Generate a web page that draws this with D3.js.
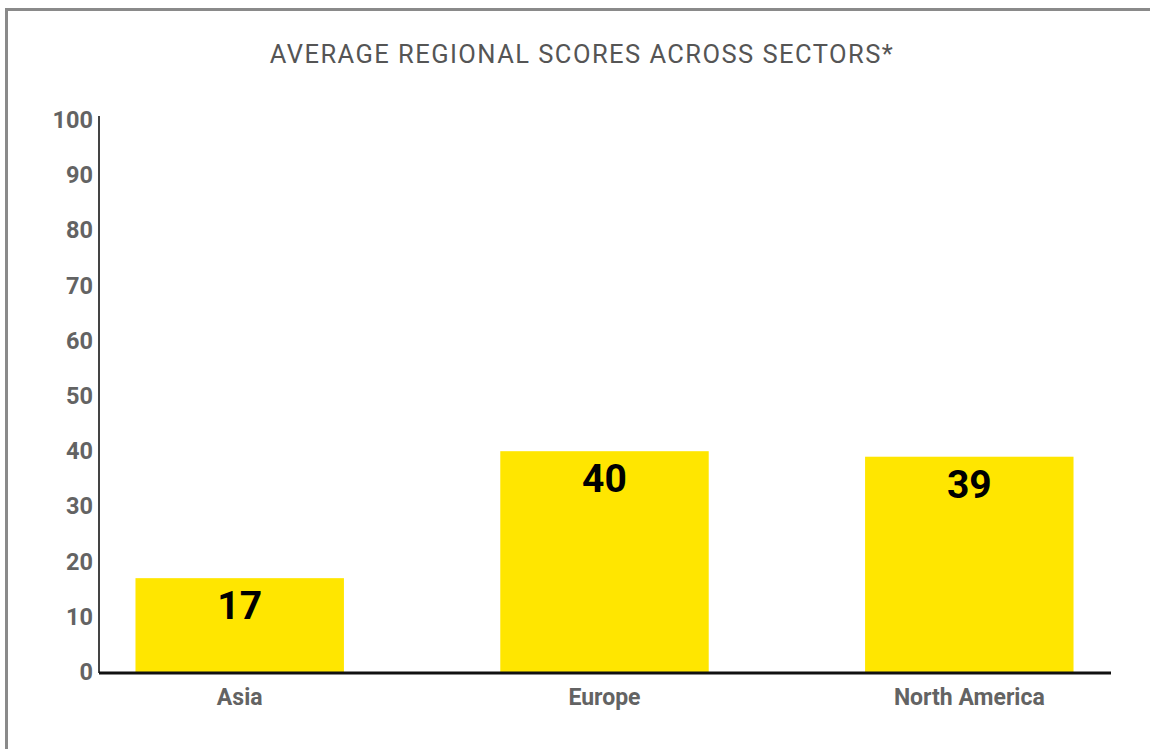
<!DOCTYPE html>
<html>
<head>
<meta charset="utf-8">
<script src="https://cdn.jsdelivr.net/npm/d3@7"></script>
<style>
  body { margin: 0; background: #fff; }
  svg { display: block; font-family: Roboto, "Noto Sans", sans-serif; }
</style>
</head>
<body>
<div id="chart"></div>
<script>
// Data
const regions = ["Asia", "Europe", "North America"];
const scores = [17, 40, 39];
const yTicks = [0, 10, 20, 30, 40, 50, 60, 70, 80, 90, 100];
const title = "AVERAGE REGIONAL SCORES ACROSS SECTORS*";

const width = 1150, height = 749;
const margin = { top: 120, right: 40, bottom: 77, left: 99 };

const svg = d3.select("#chart")
    .append("svg")
    .attr("width", width)
    .attr("height", height);

// Frame
svg.append("rect")
    .attr("x", 6.5)
    .attr("y", 9.5)
    .attr("width", width + 20)
    .attr("height", height + 20)
    .attr("fill", "none")
    .attr("stroke", "#8a8a8a")
    .attr("stroke-width", 3);

// Title
svg.append("text")
    .attr("x", 582)
    .attr("y", 62.5)
    .attr("text-anchor", "middle")
    .attr("fill", "#555")
    .style("font-size", "25.5px")
    .style("letter-spacing", "1.45px")
    .text(title);

// Scales
const xScale = d3.scaleBand()
    .domain(regions)
    .range([margin.left, width - margin.right])
    .paddingInner(0.4286)
    .paddingOuter(0.1);

const yScale = d3.scaleLinear()
    .domain([0, 100])
    .range([height - margin.bottom, margin.top]);

// Bars
svg.selectAll("rect.bar")
    .data(scores)
    .enter()
    .append("rect")
    .attr("class", "bar")
    .attr("x", (d, i) => xScale(regions[i]))
    .attr("y", d => yScale(d))
    .attr("width", xScale.bandwidth())
    .attr("height", d => yScale(0) - yScale(d))
    .attr("fill", "#ffe600");

// Value labels
svg.selectAll("text.value")
    .data(scores)
    .enter()
    .append("text")
    .attr("class", "value")
    .attr("x", (d, i) => xScale(regions[i]) + xScale.bandwidth() / 2)
    .attr("y", d => yScale(d) + 41)
    .attr("text-anchor", "middle")
    .attr("fill", "#000")
    .style("font-size", "39px")
    .style("font-weight", "bold")
    .text(d => d);

// Y axis
const yAxis = svg.append("g")
    .attr("transform", `translate(${margin.left},0)`)
    .call(d3.axisLeft(yScale).tickValues(yTicks).tickSize(0).tickPadding(6));
yAxis.select(".domain")
    .attr("d", `M0,${yScale(100) - 4}V${yScale(0) + 1}`)
    .attr("stroke", "#444")
    .attr("stroke-width", 2);
yAxis.selectAll("text")
    .attr("fill", "#636363")
    .style("font-size", "23.5px")
    .style("font-weight", "bold")
    .style("font-family", "Roboto, sans-serif");

// X axis
const xAxis = svg.append("g")
    .attr("transform", `translate(0,${yScale(0) + 1})`)
    .call(d3.axisBottom(xScale).tickSize(0).tickPadding(16));
xAxis.select(".domain")
    .attr("d", `M${margin.left},0H${width - margin.right + 1}`)
    .attr("stroke", "#111")
    .attr("stroke-width", 3);
xAxis.selectAll("text")
    .attr("fill", "#636363")
    .style("font-size", "23px")
    .style("font-weight", "bold")
    .style("font-family", "Roboto, sans-serif");
</script>
</body>
</html>
